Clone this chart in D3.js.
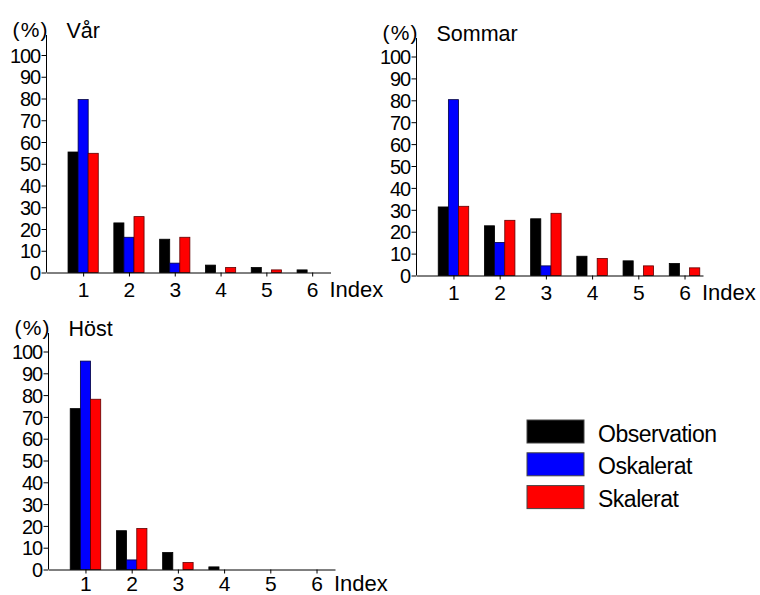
<!DOCTYPE html>
<html>
<head>
<meta charset="utf-8">
<script src="https://cdn.jsdelivr.net/npm/d3@7"></script>
<style>
  html, body { margin: 0; padding: 0; background: #fff; }
  svg { display: block; }
  text { font-family: "Liberation Sans", Arial, sans-serif; fill: #000; }
</style>
</head>
<body>
<svg id="chart" width="760" height="595"></svg>
<script>
const indices = [1, 2, 3, 4, 5, 6];
const seriesNames = ["Observation", "Oskalerat", "Skalerat"];
const seriesColors = ["#000000", "#0000ff", "#ff0000"];
const seriesStrokes = ["#000000", "#000040", "#600000"];
const yTicks = [0, 10, 20, 30, 40, 50, 60, 70, 80, 90, 100];
const panelTitles = ["Vår", "Sommar", "Höst"];

const varObs = [55.4, 22.8, 15.3, 3.4, 2.3, 1.2];
const varOsk = [79.5, 16.2, 4.3, 0, 0, 0];
const varSkal = [54.8, 25.7, 16.2, 2.3, 1.2, 0];

const sommarObs = [31.3, 22.7, 25.9, 8.8, 6.7, 5.5];
const sommarOsk = [80.3, 15.1, 4.4, 0, 0, 0];
const sommarSkal = [31.6, 25.2, 28.4, 7.8, 4.4, 3.5];

const hostObs = [73.8, 17.8, 7.8, 1.2, 0, 0];
const hostOsk = [95.6, 4.4, 0, 0, 0, 0];
const hostSkal = [78.1, 18.8, 3.2, 0, 0, 0];

const panelData = [
  [varObs, varOsk, varSkal],
  [sommarObs, sommarOsk, sommarSkal],
  [hostObs, hostOsk, hostSkal]
];

// layout (pixels)
const layouts = [
  { xl: 46.5, xr: 330.5, y0: 272.5, y100: 55, top: 35, lab: 24 },
  { xl: 416.5, xr: 703, y0: 275.5, y100: 56.5, top: 38, lab: 24 },
  { xl: 48.5, xr: 335, y0: 569.5, y100: 351.5, top: 333, lab: 21.5 }
];

const svg = d3.select("#chart");

layouts.forEach((L, p) => {
  const g = svg.append("g");
  const x = d3.scaleLinear().domain([0.2, 6.4]).range([L.xl, L.xr]);
  const y = d3.scaleLinear().domain([0, 100]).range([L.y0, L.y100]);
  const unit = x(1) - x(0);
  const bw = unit * 0.22;

  // bars
  panelData[p].forEach((vals, s) => {
    g.selectAll(null)
      .data(indices.map((k, i) => ({ k, v: vals[i] })).filter(d => d.v > 0))
      .enter().append("rect")
      .attr("x", d => x(d.k) + (s - 1.5) * bw)
      .attr("y", d => y(d.v))
      .attr("width", bw)
      .attr("height", d => y(0) - y(d.v))
      .attr("fill", seriesColors[s])
      .attr("stroke", seriesStrokes[s])
      .attr("stroke-width", 0.8);
  });

  // y axis
  const ya = g.append("g")
    .attr("transform", `translate(${L.xl},0)`)
    .call(d3.axisLeft(y).tickValues(yTicks).tickSize(5).tickPadding(1.5));
  ya.select(".domain").remove();
  ya.selectAll("text")
    .style("font-size", "20px")
    .style("letter-spacing", "-1.1px")
    .style("font-family", "'Liberation Sans', Arial, sans-serif")
    .attr("dy", "0.36em");
  g.append("line")
    .attr("x1", L.xl).attr("x2", L.xl)
    .attr("y1", L.y0).attr("y2", L.top)
    .attr("stroke", "#000").attr("stroke-width", 1);

  // x axis
  const xa = g.append("g")
    .attr("transform", `translate(0,${L.y0})`)
    .call(d3.axisBottom(x).tickValues(indices).tickFormat(d3.format("d"))
      .tickSize(4).tickSizeOuter(0));
  xa.selectAll("text")
    .attr("y", L.lab)
    .attr("dy", 0)
    .style("font-size", "21px")
    .style("font-family", "'Liberation Sans', Arial, sans-serif");
  xa.select(".domain").attr("stroke-width", 1);

  // labels
  g.append("text")
    .attr("x", L.xr - 1)
    .attr("y", L.y0 + L.lab)
    .style("font-size", "22px")
    .text("Index");
  g.append("text")
    .attr("x", L.xl - 34)
    .attr("y", L.top + 2)
    .style("font-size", "21px")
    .style("letter-spacing", "1.2px")
    .text("(%)");
  g.append("text")
    .attr("x", L.xl + 20)
    .attr("y", L.top + 3)
    .style("font-size", "21.5px")
    .text(panelTitles[p]);
});

// legend
const leg = svg.append("g");
seriesNames.forEach((name, i) => {
  const cy = 431.5 + i * 32.8;
  leg.append("rect")
    .attr("x", 527).attr("y", cy - 11.5)
    .attr("width", 57).attr("height", 23)
    .attr("fill", seriesColors[i])
    .attr("stroke", "#444").attr("stroke-width", 1);
  leg.append("text")
    .attr("x", 598).attr("y", cy + 2)
    .attr("dy", "0.35em")
    .style("font-size", "23px")
    .style("letter-spacing", "-0.5px")
    .text(name);
});
</script>
</body>
</html>
